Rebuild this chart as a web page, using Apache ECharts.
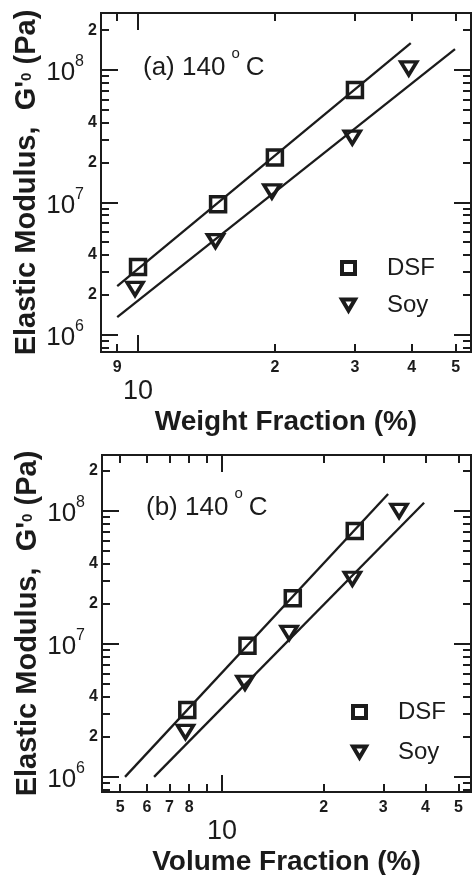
<!DOCTYPE html>
<html>
<head>
<meta charset="utf-8">
<script src="https://cdn.jsdelivr.net/npm/echarts@6/dist/echarts.min.js"></script>
<style>
  html, body { margin: 0; padding: 0; background: #fff; }
  #chart { width: 472px; height: 875px; }
</style>
</head>
<body>
<div id="chart"></div>
<script>
// (a) weight fraction (%) vs G'0 (Pa)
const weightDsfX = [10, 15, 20, 30];
const weightDsfG = [3.25e6, 9.7e6, 2.18e7, 7.07e7];
const weightSoyX = [9.85, 14.8, 19.7, 29.6, 39.4];
const weightSoyG = [2.22e6, 5.1e6, 1.21e7, 3.09e7, 1.03e8];
const weightDsfFitX = [9.0, 39.8];
const weightDsfFitG = [2.33e6, 1.6e8];
const weightSoyFitX = [9.0, 49.8];
const weightSoyFitG = [1.36e6, 1.44e8];

// (b) volume fraction (%) vs G'0 (Pa)
const volumeDsfX = [7.9, 11.9, 16.2, 24.7];
const volumeDsfG = [3.19e6, 9.7e6, 2.2e7, 7.07e7];
const volumeSoyX = [7.8, 11.7, 15.8, 24.3, 33.4];
const volumeSoyG = [2.18e6, 5.1e6, 1.21e7, 3.09e7, 1.0e8];
const volumeDsfFitX = [5.17, 31];
const volumeDsfFitG = [1.0e6, 1.34e8];
const volumeSoyFitX = [6.3, 39.6];
const volumeSoyFitG = [1.0e6, 1.15e8];

// axis ranges
const weightRange = [8.29, 54];
const volumeRange = [4.42, 54.5];
const gRangeA = [7.4e5, 2.7e8];
const gRangeB = [7.7e5, 2.63e8];

// ticks and tick labels
const weightTicks = [9, 20, 30, 40, 50];
const weightLabels = [9, 20, 30, 40, 50];
const volumeTicks = [5, 6, 7, 8, 9, 20, 30, 40, 50];
const volumeLabels = [5, 6, 7, 8, 20, 30, 40, 50];
const xDecades = [10];
const gMinorTicks = [8e5, 9e5, 2e6, 3e6, 4e6, 5e6, 6e6, 7e6, 8e6, 9e6,
  2e7, 3e7, 4e7, 5e7, 6e7, 7e7, 8e7, 9e7, 2e8];
const gMinorLabels = [2e6, 4e6, 2e7, 4e7, 2e8];
const gDecades = [1e6, 1e7, 1e8];

const INK = '#1b1b1b';
const FONT = 'Liberation Sans';
const TRI = 'path://M0,0L20,0L10,17Z';
const lg = Math.log10;

function zip(xs, ys) {
  return xs.map((x, i) => [x, ys[i]]);
}

function leadDigit(v) {
  const n = Math.pow(10, v);
  return String(Math.round(n / Math.pow(10, Math.floor(v + 1e-9))));
}

// value axis in log10 space, only used to draw ticks / labels
function tickAxis(grid, pos, range, ticks, len, labels, label) {
  return {
    type: 'value', gridIndex: grid, position: pos,
    min: lg(range[0]), max: lg(range[1]),
    axisLine: { show: false, onZero: false },
    splitLine: { show: false },
    axisTick: {
      show: true, inside: true, length: len,
      customValues: ticks.map(lg),
      lineStyle: { color: INK, width: 2 }
    },
    axisLabel: labels
      ? Object.assign({ customValues: labels.map(lg), color: INK, fontFamily: FONT }, label)
      : { show: false }
  };
}

// log axis that carries the data
function dataAxis(grid, pos, range, name, nameGap, nameStyle) {
  return {
    type: 'log', logBase: 10, gridIndex: grid, position: pos,
    min: range[0], max: range[1],
    axisLine: { show: false, onZero: false },
    axisTick: { show: false },
    axisLabel: { show: false },
    splitLine: { show: false },
    name: name, nameLocation: 'middle', nameGap: nameGap,
    nameTextStyle: nameStyle
  };
}

const xNameStyle = { fontFamily: FONT, fontWeight: 'bold', fontSize: 28, color: INK };
const yNameStyle = {
  fontFamily: FONT, fontWeight: 'bold', fontSize: 29, color: INK,
  rich: {
    t: { fontFamily: FONT, fontWeight: 'bold', fontSize: 29, color: INK },
    sub: { fontFamily: FONT, fontWeight: 'bold', fontSize: 15, color: INK }
  }
};
const yName = "{t|Elastic Modulus,  G'}{sub|0}{t| (Pa)}";

const smallX = { fontSize: 16, fontWeight: 'bold', margin: 8, formatter: leadDigit };
const bigX = { fontSize: 27, margin: 26, formatter: () => '10' };
const smallY = { fontSize: 16, fontWeight: 'bold', margin: 4, formatter: leadDigit };
const bigY = {
  margin: 17,
  formatter: v => '{b|10}{s|' + Math.round(v) + '}',
  rich: {
    b: { fontFamily: FONT, fontSize: 26, color: INK, verticalAlign: 'bottom' },
    s: { fontFamily: FONT, fontSize: 16, color: INK, verticalAlign: 'bottom', padding: [0, 0, 16, 0] }
  }
};

function xAxesFor(grid, range, ticks, labels, name) {
  return [
    dataAxis(grid, 'bottom', range, name, 56, xNameStyle),
    tickAxis(grid, 'bottom', range, ticks, 8, labels, smallX),
    tickAxis(grid, 'bottom', range, xDecades, 17, xDecades, bigX),
    tickAxis(grid, 'top', range, ticks, 8),
    tickAxis(grid, 'top', range, xDecades, 17)
  ];
}

function yAxesFor(grid, range) {
  return [
    dataAxis(grid, 'left', range, yName, 60, yNameStyle),
    tickAxis(grid, 'left', range, gMinorTicks, 8, gMinorLabels, smallY),
    tickAxis(grid, 'left', range, gDecades, 17, gDecades, bigY),
    tickAxis(grid, 'right', range, gMinorTicks, 8),
    tickAxis(grid, 'right', range, gDecades, 17)
  ];
}

const hollow = { color: 'rgba(0,0,0,0)', borderColor: INK, borderWidth: 3.5, opacity: 1 };

function seriesFor(axisIdx, dsf, soy, dsfFit, soyFit) {
  const fitLine = (name, data) => ({
    name: name, type: 'line', xAxisIndex: axisIdx, yAxisIndex: axisIdx,
    data: data, showSymbol: false, symbol: 'none', silent: true, z: 2,
    lineStyle: { color: INK, width: 2.3 }
  });
  return [
    fitLine('DSF fit', dsfFit),
    fitLine('Soy fit', soyFit),
    {
      name: 'DSF', type: 'scatter', xAxisIndex: axisIdx, yAxisIndex: axisIdx,
      data: dsf, symbol: 'rect', symbolSize: 15, itemStyle: hollow, z: 3
    },
    {
      name: 'Soy', type: 'scatter', xAxisIndex: axisIdx, yAxisIndex: axisIdx,
      data: soy, symbol: TRI, symbolSize: [16, 13], itemStyle: hollow, z: 3
    }
  ];
}

function legendAt(left, top, gap) {
  const icon = { color: 'rgba(0,0,0,0)', borderColor: INK, borderWidth: 4, opacity: 1 };
  return {
    left: left, top: top, orient: 'vertical', itemGap: gap,
    itemWidth: 13, itemHeight: 12, selectedMode: false,
    textStyle: { fontFamily: FONT, fontSize: 24, color: INK, lineHeight: 24, padding: [0, 0, 0, 27] },
    data: [
      { name: 'DSF', icon: 'rect', itemStyle: icon },
      { name: 'Soy', icon: TRI, itemStyle: icon }
    ]
  };
}

function panelLabel(text, left, top) {
  return {
    text: '{t|' + text + ' 140}{s|o}{t|C}', left: left, top: top, padding: 0,
    textStyle: {
      fontWeight: 'normal',
      rich: {
        t: { fontFamily: FONT, fontSize: 26, fontWeight: 'normal', color: INK, verticalAlign: 'bottom' },
        s: { fontFamily: FONT, fontSize: 15, fontWeight: 'normal', color: INK, verticalAlign: 'bottom', padding: [0, 6, 20, 6] }
      }
    }
  };
}

const chart = echarts.init(document.getElementById('chart'), null, { renderer: 'canvas' });

const gridStyle = {
  show: true, borderColor: INK, borderWidth: 2,
  backgroundColor: 'rgba(0,0,0,0)', containLabel: false, outerBoundsMode: 'none'
};

const option = {
  backgroundColor: '#fff',
  animation: false,
  title: [
    panelLabel('(a)', 143, 46),
    panelLabel('(b)', 146, 486)
  ],
  legend: [
    legendAt(335, 251, 13),
    legendAt(346, 695, 16)
  ],
  grid: [
    Object.assign({ left: 101, top: 13, width: 370, height: 339 }, gridStyle),
    Object.assign({ left: 102, top: 455, width: 369, height: 337 }, gridStyle)
  ],
  xAxis: [].concat(
    xAxesFor(0, weightRange, weightTicks, weightLabels, 'Weight Fraction (%)'),
    xAxesFor(1, volumeRange, volumeTicks, volumeLabels, 'Volume Fraction (%)')
  ),
  yAxis: [].concat(
    yAxesFor(0, gRangeA),
    yAxesFor(1, gRangeB)
  ),
  series: [].concat(
    seriesFor(0, zip(weightDsfX, weightDsfG), zip(weightSoyX, weightSoyG),
      zip(weightDsfFitX, weightDsfFitG), zip(weightSoyFitX, weightSoyFitG)),
    seriesFor(5, zip(volumeDsfX, volumeDsfG), zip(volumeSoyX, volumeSoyG),
      zip(volumeDsfFitX, volumeDsfFitG), zip(volumeSoyFitX, volumeSoyFitG))
  )
};

chart.setOption(option);
</script>
</body>
</html>
